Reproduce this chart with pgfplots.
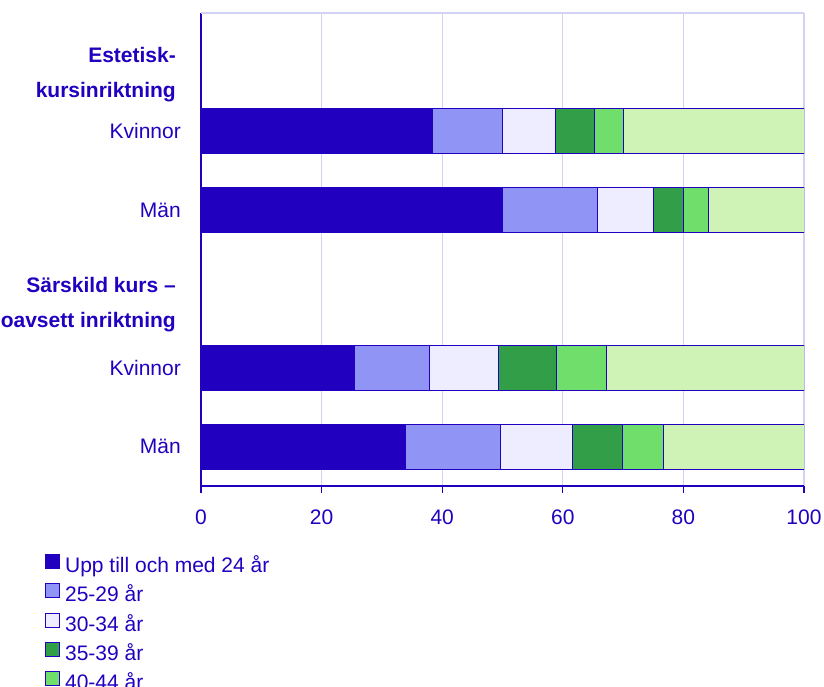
\documentclass[border=0pt]{standalone}
\usepackage{pgfplots}
\pgfplotsset{compat=1.18}
\usepackage{fontspec}
\setmainfont{Liberation Sans}
\definecolor{darkb}{HTML}{2100C0}
\definecolor{cB}{HTML}{8F94F5}
\definecolor{cC}{HTML}{EDEDFF}
\definecolor{cD}{HTML}{339E48}
\definecolor{cE}{HTML}{70DE6B}
\definecolor{cF}{HTML}{CFF2B6}
\definecolor{gridc}{HTML}{D2D2F2}
\newcommand{\f}{\fontsize{21}{24}\selectfont}
\begin{document}
\begin{tikzpicture}
\begin{axis}[
  at={(201pt,201pt)}, anchor=south west,
  scale only axis, width=603pt, height=473pt,
  xbar stacked, bar width=45pt,
  xmin=0, xmax=100, ymin=-0.5, ymax=5.5,
  axis x line*=bottom, axis y line*=left,
  axis line style={darkb, line width=1.2pt},
  xtick={0,20,40,60,80,100},
  xmajorgrids, grid style={gridc, line width=1.2pt},
  tick align=outside, major tick length=7pt,
  xtick style={darkb, line width=1.2pt},
  ytick style={draw=none},
  ytick={0,1,3,4},
  yticklabels={Män,Kvinnor,Män,Kvinnor},
  extra y ticks={1.80,4.715},
  extra y tick labels={{Särskild kurs –\\oavsett inriktning},{Estetisk-\\kursinriktning}},
  extra y tick style={ytick style={draw=none}, yticklabel style={font=\bfseries\fontsize{21}{35}\selectfont, align=right, xshift=-5pt}},
  yticklabel style={font=\f, text=darkb, inner sep=0pt, xshift=-13pt},
  xticklabel style={font=\f, text=darkb, inner sep=0pt, yshift=-17pt},
  /pgf/number format/assume math mode=true,
  every axis plot/.append style={draw=darkb, line width=0.8pt},
  legend cell align=left,
  legend image code/.code={\draw[#1, draw=darkb, line width=0.9pt] (0pt,-1pt) rectangle (14pt,13pt);},
  legend style={at={(-0.2587,-0.1440)}, anchor=north west, draw=none, fill=none,
    inner sep=0pt, font=\f, text=darkb, row sep=5.7pt, column sep=5pt,
    nodes={inner sep=0pt, text height=15pt, text depth=5pt}},
]
\addplot[fill=darkb] coordinates {(33.9,0) (25.4,1) (50.0,3) (38.3,4)};
\addplot[fill=cB] coordinates {(15.7,0) (12.4,1) (15.8,3) (11.7,4)};
\addplot[fill=cC] coordinates {(12.0,0) (11.5,1) (9.2,3) (8.7,4)};
\addplot[fill=cD] coordinates {(8.2,0) (9.6,1) (5.0,3) (6.5,4)};
\addplot[fill=cE] coordinates {(6.9,0) (8.3,1) (4.1,3) (4.8,4)};
\addplot[fill=cF] coordinates {(23.3,0) (32.8,1) (15.9,3) (30.0,4)};
\legend{Upp till och med 24 år,25-29 år,30-34 år,35-39 år,40-44 år,45 år och äldre}
\draw[gridc, line width=1.2pt] (rel axis cs:0,1) -- (rel axis cs:1,1);
\end{axis}
\pgfresetboundingbox
\path[use as bounding box] (0,0) rectangle (824pt,687pt);
\end{tikzpicture}
\end{document}
